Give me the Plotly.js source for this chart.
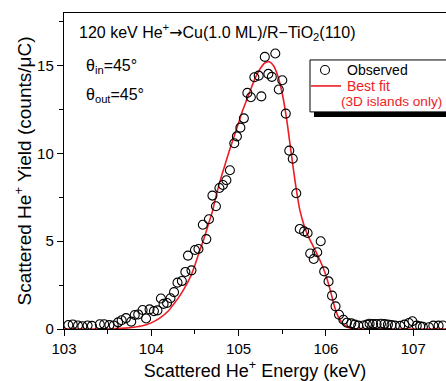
<!DOCTYPE html>
<html>
<head>
<meta charset="utf-8">
<script src="https://cdn.plot.ly/plotly-3.0.1.min.js"></script>
<style>html,body{margin:0;padding:0;background:#fff;}#chart{width:446px;height:381px;}</style>
</head>
<body>
<div id="chart"></div>
<script>
// Observed data (energy keV, yield counts/uC)
var obsEnergy = [103.05,103.10,103.16,103.21,103.27,103.32,103.41,103.46,103.52,103.57,
  103.62,103.66,103.71,103.77,103.81,103.85,103.90,103.94,103.98,104.03,
  104.07,104.11,104.14,104.18,104.22,104.26,104.30,104.35,104.39,104.42,
  104.46,104.50,104.54,104.59,104.63,104.66,104.70,104.74,104.78,104.82,
  104.86,104.90,104.95,104.98,105.02,105.06,105.10,105.14,105.18,105.23,
  105.26,105.30,105.34,105.38,105.42,105.46,105.50,105.54,105.58,105.62,
  105.66,105.70,105.75,105.79,105.82,105.86,105.90,105.94,105.98,106.03,
  106.07,106.11,106.15,106.20,106.24,106.29,106.33,106.37,106.43,106.47,
  106.50,106.54,106.58,106.63,106.67,106.71,106.75,106.79,106.85,106.90,
  106.95,106.99,107.04,107.08,107.11,107.18,107.23,107.29,107.34];
var obsYield = [0.23,0.26,0.20,0.16,0.20,0.18,0.27,0.27,0.22,0.20,
  0.38,0.50,0.62,0.42,0.80,0.83,1.08,0.60,1.12,1.02,
  1.06,1.74,1.43,1.48,1.75,2.10,2.64,2.73,3.25,4.18,
  3.34,4.50,4.56,5.94,5.12,6.25,7.60,6.99,8.03,8.20,
  8.47,9.04,10.58,10.97,11.47,12.00,13.45,13.20,14.34,14.43,
  13.25,15.50,14.53,14.36,15.69,13.64,14.17,12.27,10.16,9.70,
  7.73,5.70,5.56,5.47,4.30,3.99,4.37,5.00,3.28,2.71,
  1.90,1.29,0.81,0.53,0.36,0.32,0.25,0.19,0.20,0.25,
  0.30,0.28,0.28,0.30,0.28,0.25,0.22,0.19,0.18,0.25,
  0.34,0.44,0.19,0.15,0.12,0.10,0.19,0.19,0.20];

// Best fit curve (3D islands only)
var fitEnergy = [103.00,103.50,103.60,103.70,103.80,103.90,104.00,104.10,104.20,104.25,
  104.30,104.37,104.45,104.50,104.55,104.60,104.65,104.70,104.75,104.80,
  104.85,104.90,104.95,105.00,105.05,105.10,105.15,105.20,105.25,105.30,
  105.35,105.40,105.45,105.50,105.55,105.60,105.65,105.70,105.75,105.80,
  105.85,105.90,105.95,106.00,106.05,106.10,106.15,106.20,106.25,106.30,
  106.40,107.40];
var fitYield = [0,0,0.02,0.05,0.10,0.18,0.35,0.63,1.05,1.38,
  1.70,2.24,3.00,3.65,4.40,5.10,5.90,6.70,7.75,8.65,
  9.45,10.25,11.00,11.75,12.50,13.15,13.80,14.40,14.85,15.15,
  15.22,15.00,14.40,13.40,11.95,10.10,8.30,6.80,5.90,5.25,
  4.75,4.25,3.70,3.05,2.20,1.25,0.60,0.28,0.10,0.02,
  0,0];

var xTickVals = [103,104,105,106,107];
var yTickVals = [0,5,10,15];

var FONT = 'Liberation Sans, Arial, sans-serif';

var traces = [
  {x: fitEnergy, y: fitYield, type: 'scatter', mode: 'lines', line: {color: '#ee1c25', width: 1.6, shape: 'spline', smoothing: 0.6}, name: 'Best fit', hoverinfo: 'skip'},
  {x: obsEnergy, y: obsYield, type: 'scatter', mode: 'markers', marker: {symbol: 'circle-open', size: 9, color: '#000', line: {width: 1.1, color: '#000'}}, name: 'Observed'}
];

function px2x(p){return (p-64)/382;}
function py2y(p){return (329.3-p)/316.3;}

var layout = {
  width: 446, height: 381,
  margin: {l: 64, r: 0, t: 13, b: 52},
  paper_bgcolor: '#fff', plot_bgcolor: '#fff',
  showlegend: false,
  font: {family: FONT, color: '#000', size: 15},
  xaxis: {
    range: [103, 107.375], tickvals: xTickVals, ticktext: xTickVals.map(String),
    ticks: 'outside', ticklen: 6, tickwidth: 1, tickcolor: '#000',
    minor: {dtick: 0.5, ticks: 'outside', ticklen: 4, tickcolor: '#000', tickwidth: 1, showgrid: false},
    showline: true, linecolor: '#000', linewidth: 1.2, mirror: true,
    showgrid: false, zeroline: false,
    tickfont: {size: 15, family: FONT},
    title: {text: 'Scattered He<sup>+</sup> Energy (keV)', font: {size: 18, family: FONT}, standoff: 9}
  },
  yaxis: {
    range: [0, 18], tickvals: yTickVals, ticktext: yTickVals.map(String),
    ticks: 'outside', ticklen: 6, tickwidth: 1, tickcolor: '#000',
    minor: {dtick: 2.5, ticks: 'outside', ticklen: 4, tickcolor: '#000', tickwidth: 1, showgrid: false},
    showline: true, linecolor: '#000', linewidth: 1.2, mirror: false,
    showgrid: false, zeroline: false,
    tickfont: {size: 15, family: FONT},
    title: {text: 'Scattered He<sup>+</sup> Yield (counts/μC)', font: {size: 19, family: FONT}, standoff: 0}
  },
  annotations: [
    {xref: 'paper', yref: 'paper', x: px2x(77), y: py2y(32), xanchor: 'left', yanchor: 'middle', showarrow: false,
     text: '120 keV He<sup>+</sup><span style="font-family:DejaVu Sans">→</span>Cu(1.0 ML)/R−TiO<sub>2</sub>(110)', font: {size: 16, family: FONT}},
    {xref: 'paper', yref: 'paper', x: px2x(84), y: py2y(67), xanchor: 'left', yanchor: 'middle', showarrow: false,
     text: 'θ<sub>in</sub>=45°', font: {size: 16, family: FONT}},
    {xref: 'paper', yref: 'paper', x: px2x(84), y: py2y(96), xanchor: 'left', yanchor: 'middle', showarrow: false,
     text: 'θ<sub>out</sub>=45°', font: {size: 16, family: FONT}},
    {xref: 'paper', yref: 'paper', x: px2x(345), y: py2y(70), xanchor: 'left', yanchor: 'middle', showarrow: false,
     text: 'Observed', font: {size: 14, family: FONT, color: '#000'}},
    {xref: 'paper', yref: 'paper', x: px2x(345), y: py2y(86), xanchor: 'left', yanchor: 'middle', showarrow: false,
     text: 'Best fit', font: {size: 14, family: FONT, color: '#ee1c25'}},
    {xref: 'paper', yref: 'paper', x: px2x(339), y: py2y(102), xanchor: 'left', yanchor: 'middle', showarrow: false,
     text: '(3D islands only)', font: {size: 13.6, family: FONT, color: '#ee1c25'}}
  ],
  shapes: [
    {type: 'rect', xref: 'paper', yref: 'paper', x0: px2x(314), x1: px2x(470), y0: py2y(117), y1: py2y(64), fillcolor: '#000', line: {width: 0}},
    {type: 'rect', xref: 'paper', yref: 'paper', x0: px2x(310), x1: px2x(466), y0: py2y(112), y1: py2y(60), fillcolor: '#fff', line: {width: 1, color: '#000'}},
    {type: 'circle', xref: 'paper', yref: 'paper', xsizemode: 'pixel', ysizemode: 'pixel', xanchor: px2x(325), yanchor: py2y(70), x0: -4.5, x1: 4.5, y0: -4.5, y1: 4.5, line: {color: '#000', width: 1.1}, fillcolor: 'rgba(0,0,0,0)'},
    {type: 'line', xref: 'paper', yref: 'paper', x0: px2x(311), x1: px2x(341), y0: py2y(86), y1: py2y(86), line: {color: '#ee1c25', width: 1.6}}
  ]
};

Plotly.newPlot('chart', traces, layout, {displayModeBar: false, staticPlot: true});
</script>
</body>
</html>
